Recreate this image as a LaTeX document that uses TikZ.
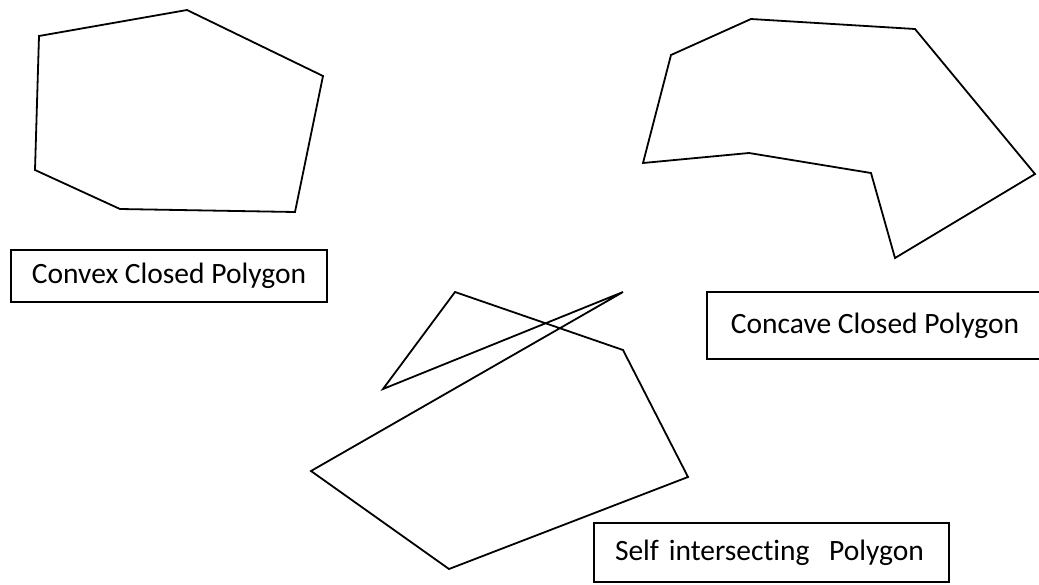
\documentclass[tikz,border=0pt]{standalone}
\usepackage{fontspec}
\setmainfont{Carlito}[Ligatures=NoCommon]
\usepackage{tikz}

\tikzset{
  poly/.style={line width=1.8pt, line join=miter},
  tag/.style={draw, line width=1.4pt, font=\fontsize{29.5}{33}\selectfont, inner sep=0pt, anchor=center}
}

\begin{document}
\begin{tikzpicture}[x=1pt,y=-1pt] % pixel grid, y down
   \useasboundingbox (0,0) rectangle (1039,584);

   % convex
   \draw[poly] (39,36) -- (187,10) -- (323,76) -- (295,212) -- (120,209) -- (35,170) -- cycle;

   % concave
   \draw[poly] (671,55) -- (751,19) -- (915,29) -- (1035,174) -- (895,258)
               -- (871,173) -- (749,153) -- (643,163) -- cycle;

   % self intersecting
   \draw[poly] (455,292) -- (623,350) -- (688,477) -- (449,569) -- (311,471)
               -- (623,292) -- (383,389) -- cycle;

   \node[tag, minimum width=316, minimum height=52] (convex) at (169,276) {Convex Closed Polygon};
   \node[tag, minimum width=336, minimum height=67] (concave) at (875,325.5) {Concave Closed Polygon};
   \node[tag, minimum width=355, minimum height=59, text width=313, align=left] (self) at (771.5,552.5) {\mbox{Self intersecting\ \ Polygon}};
  \end{tikzpicture}
\end{document}
